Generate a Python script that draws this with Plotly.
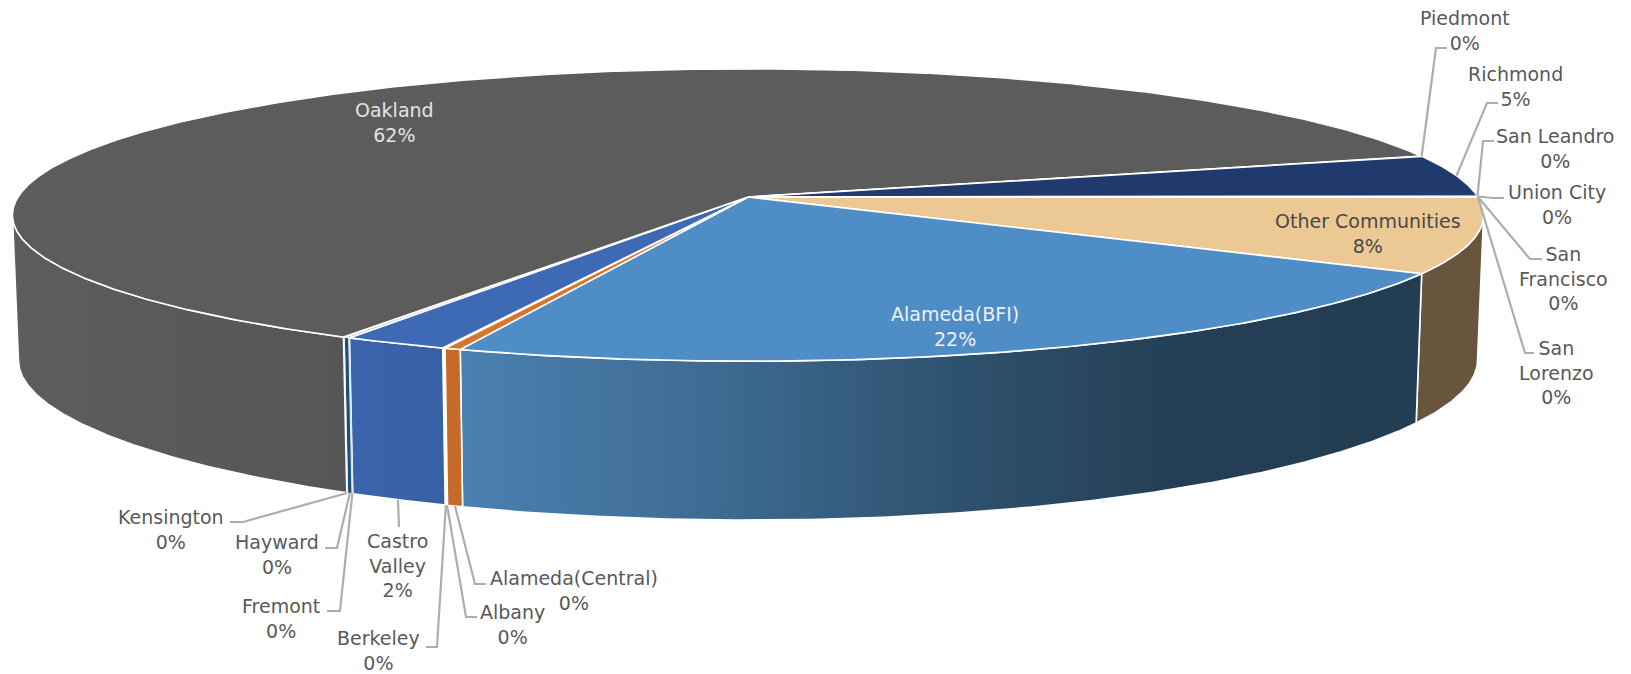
import numpy as np
import plotly.graph_objects as go

# ---- data (clockwise from the 3 o'clock seam) ----
categories = ["Other Communities", "Alameda(BFI)", "Alameda(Central)", "Albany", "Berkeley",
              "Castro Valley", "Fremont", "Hayward", "Kensington", "Oakland", "Piedmont",
              "Richmond", "San Leandro", "Union City", "San Francisco", "San Lorenzo"]
values = [8.33, 22.34, 0.32, 0.02, 0.03, 2.06, 0.02, 0.10, 0.02, 62.01, 0.03, 4.62, 0.03, 0.03, 0.02, 0.02]
percent_labels = ["8%", "22%", "0%", "0%", "0%", "2%", "0%", "0%", "0%", "62%", "0%", "5%", "0%", "0%", "0%", "0%"]
display_names = ["Other Communities", "Alameda(BFI)", "Alameda(Central)", "Albany", "Berkeley",
                 "Castro<br>Valley", "Fremont", "Hayward", "Kensington", "Oakland", "Piedmont",
                 "Richmond", "San Leandro", "Union City", "San<br>Francisco", "San<br>Lorenzo"]

# ---- styles ----
top_colors = ["#ecc994", "#4f8dc6", "#d9742b", "#9e480e", "#636363", "#3e69b5", "#a5a5a5", "#c9c9c9",
              "#a5a5a5", "#5c5c5c", "#264478", "#203a6d", "#a5a5a5", "#70ad47", "#ffc000", "#5b9bd5"]
side_stops = {
    "Other Communities": ["#67553e", "#67553e"],
    "Alameda(BFI)": ["#4a80b0", "#3f6c94", "#2f5370", "#243f55", "#233d52"],
    "Alameda(Central)": ["#c56a28", "#c56a28"],
    "Castro Valley": ["#3a64ac", "#3760a6"],
    "Fremont": ["#1e4e79", "#1e4e79"],
    "Hayward": ["#1e4e79", "#1e4e79"],
    "Kensington": ["#1e4e79", "#1e4e79"],
    "Oakland": ["#5d5d5d", "#565656"],
}
TXT = "#595959"
FONT = "DejaVu Sans"
FS = 19

# projection of the disc
CX, CY = 748.0, 197.0
A, B, K = 730.0, 144.0, 0.123
CY2, A2, B2, K2 = 341.5, 724.0, 150.0, 0.16
SIL = np.degrees(np.arcsin(K))


def top_xy(t):
    r = np.radians(t)
    d = 1 - K * np.sin(r)
    return CX + A * np.cos(r) / d, CY + B * np.sin(r) / d


def bot_xy(t):
    r = np.radians(t)
    return (CX + A2 * np.cos(r) / (1 - K * np.sin(r)),
            CY2 + B2 * np.sin(r) / (1 - K2 * np.sin(r)))


vals = np.array(values, dtype=float)
edges = np.concatenate([[0], np.cumsum(vals) / vals.sum() * 360])

fig = go.Figure()


def edge_line(v):
    return dict(color="white", width=1.6 if v >= 0.2 else 0.8)


# side walls (only the part that faces the viewer)
for i, name in enumerate(categories):
    a, b = max(edges[i], SIL), min(edges[i + 1], 180 - SIL)
    if b <= a or name not in side_stops:
        continue
    ts = np.linspace(a, b, max(3, int((b - a) * 3)))
    xt, yt = top_xy(ts)
    xb, yb = bot_xy(ts)
    stops = side_stops[name]
    scale = [[j / (len(stops) - 1), c] for j, c in enumerate(stops)]
    fig.add_trace(go.Scatter(
        x=np.concatenate([xt, xb[::-1], xt[:1]]), y=np.concatenate([yt, yb[::-1], yt[:1]]),
        mode="lines", line=edge_line(values[i]), fill="toself",
        fillgradient=dict(type="horizontal", colorscale=scale),
        hoverinfo="skip", showlegend=False))

# top face
for i, name in enumerate(categories):
    a, b = edges[i], edges[i + 1]
    ts = np.linspace(a, b, max(3, int((b - a) * 3)))
    xt, yt = top_xy(ts)
    fig.add_trace(go.Scatter(
        x=np.concatenate([[CX], xt, [CX]]), y=np.concatenate([[CY], yt, [CY]]),
        mode="lines", line=edge_line(values[i]), fill="toself", fillcolor=top_colors[i],
        hoverinfo="skip", showlegend=False, name=name))

# label placement: centre of text block, elbow points of leader, anchor rim
label_pos = {
    "Piedmont": (1465, 30), "Richmond": (1515, 86), "San Leandro": (1555, 148), "Union City": (1557, 204),
    "San Francisco": (1563, 278), "San Lorenzo": (1556, 372), "Other Communities": (1368, 233),
    "Alameda(BFI)": (955, 326), "Oakland": (394, 122), "Kensington": (171, 529), "Hayward": (277, 554),
    "Castro Valley": (397, 565), "Fremont": (281, 618), "Berkeley": (378, 650), "Albany": (512, 624),
    "Alameda(Central)": (574, 590),
}
leaders = {
    "Piedmont": ("top", [(1436, 48), (1447, 48)]),
    "Richmond": ("top", [(1487, 103), (1498, 103)]),
    "San Leandro": ("top", [(1483, 141), (1494, 141)]),
    "Union City": ("top", [(1493, 198), (1504, 198)]),
    "San Francisco": ("top", [(1530, 259), (1542, 259)]),
    "San Lorenzo": ("top", [(1525, 353), (1534, 353)]),
    "Kensington": ("bot", [(243, 522), (230, 522)]),
    "Hayward": ("bot", [(337, 548), (325, 548)]),
    "Castro Valley": ("bot", [(399, 527)]),
    "Fremont": ("bot", [(340, 611), (327, 611)]),
    "Berkeley": ("bot", [(437, 647), (426, 647)]),
    "Albany": ("bot", [(466, 617), (477, 617)]),
    "Alameda(Central)": ("bot", [(475, 584), (486, 584)]),
}
inner_colors = {"Oakland": "#e4e4e4", "Alameda(BFI)": "#f0f0f0", "Other Communities": "#484848"}

for i, name in enumerate(categories):
    if name in leaders:
        rim, pts = leaders[name]
        mid = (edges[i] + edges[i + 1]) / 2
        ax, ay = top_xy(mid) if rim == "top" else bot_xy(mid)
        fig.add_trace(go.Scatter(
            x=[ax] + [p[0] for p in pts], y=[ay] + [p[1] for p in pts], mode="lines",
            line=dict(color="#adadad", width=2.2), hoverinfo="skip", showlegend=False))
    x, y = label_pos[name]
    fig.add_annotation(x=x, y=y, text=f"{display_names[i]}<br>{percent_labels[i]}", showarrow=False,
                       font=dict(family=FONT, size=FS, color=inner_colors.get(name, TXT)),
                       xanchor="center", yanchor="middle", align="center")

fig.update_layout(
    width=1631, height=674, margin=dict(l=0, r=0, t=0, b=0), paper_bgcolor="white", plot_bgcolor="white",
    xaxis=dict(range=[0, 1631], visible=False, fixedrange=True),
    yaxis=dict(range=[674, 0], visible=False, fixedrange=True),
)
fig.write_html("out.html", config={"displayModeBar": False},
               post_script="document.body.style.margin='0';document.body.style.overflow='hidden';")
